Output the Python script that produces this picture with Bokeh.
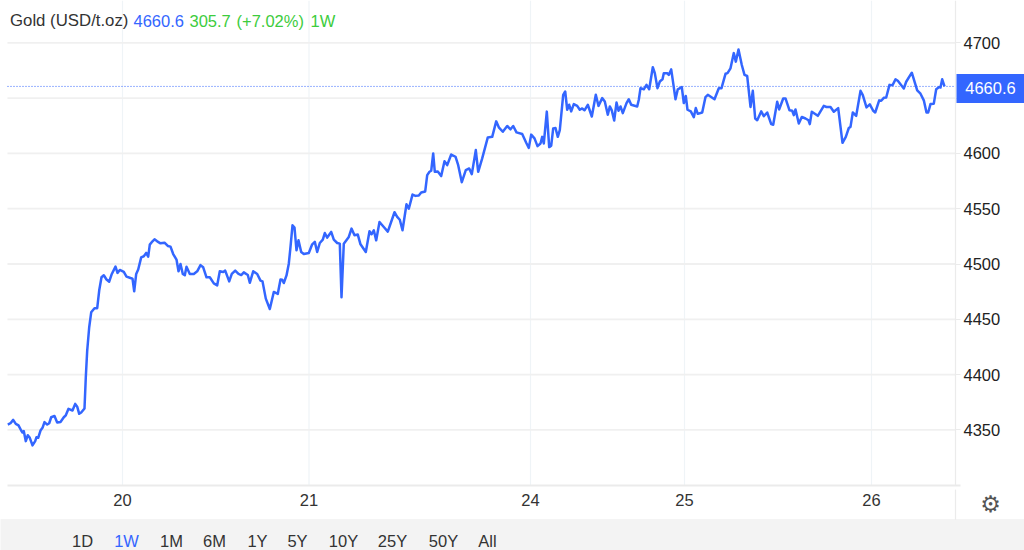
from bokeh.plotting import figure
from bokeh.models import Label, BoxAnnotation, FixedTicker, Range1d
from bokeh.embed import file_html
from bokeh.resources import INLINE

position = [7.3,10,12.7,15.3,18,20.7,22,23.3,25.3,27.3,29.3,32,34.7,36,37.7,40,42,44,46.7,48.7,50.7,54,56.7,60,63.3,65.3,68,72,74.7,76.7,78.7,80.7,84,85.3,86.7,88.7,90.7,94,96.7,98.7,101,103.3,106,108.7,111.3,115,117,119.3,123.3,126,130,132,133.7,135.7,137.7,140.7,143.3,145.7,147.7,149.3,152,154,156.7,160,164,167.3,170,172.7,176,178,180,182.3,184.3,186,189.3,193.3,196.7,200,202.7,206,209.3,213.3,216.7,219.3,222.7,224.7,228.7,231.3,234.7,238,240.7,243.3,247.3,249.3,252.7,256.7,260,262,265.3,269.3,273.3,277.3,280,281.7,283.3,286,288.3,290,292,294,296,298,300.7,303.3,308.3,311.7,314.3,316.7,319.3,322.3,324.3,326.7,330.7,333.3,336.7,339.3,341,343.3,348.3,351,354,357.3,360,365.3,369,371,373.3,375.7,379,383.3,387.3,394,396.7,399.3,402,406,408.3,412,415,418.3,420.7,424.7,426.7,429,430.7,432.7,434.3,437.3,440.7,444,446.7,450.7,455,457.7,461.3,465.3,468.7,471.3,475.3,477.7,481.7,487.3,491.7,495.7,498.3,502.3,506.7,510,512.7,516,521.7,525.7,528.3,530.7,534,537,540,541.7,543.3,546.3,548.7,550.7,552.7,555,557.3,559.3,562.7,564.7,566.7,568.7,570.7,573.3,576.7,579.3,581.7,584,587.3,591.3,595.3,598,601.7,604.3,607.3,609.3,611.3,613.7,616,618,620,622.3,626,628.3,630.7,636.7,638.3,640,643.3,646,648.7,652.3,654.3,657,659.3,662,663.3,666.7,668.3,670.7,672.7,675,677.3,681.3,683.3,685.3,687,690.3,693.3,695.3,697.3,701.7,705,707.3,714,718.3,721,725,727,730,733.3,735.3,738,741.3,744,746.7,750,752.3,754.7,756.7,760.7,763.3,766.7,770.7,772.7,776.7,778.7,782.7,785,789,791.7,793.3,795,798.3,801.3,805,808,809.3,811.3,817.3,823.3,826,830,833.3,837.7,842,845.3,848.3,850,852.3,855.7,860,862.3,866,869.3,872.7,874.7,878.7,880.7,883.3,885.7,889,892,895,897.3,903.3,905.7,911.3,916.7,920,923.3,926,927.7,930,933.3,935.7,938.7,940,941.7,944]
price = [4354.8,4356,4359,4355.4,4354,4349.4,4347.6,4348.8,4339.8,4345.2,4342.8,4336,4339.8,4343.4,4342.8,4349.4,4351.8,4357,4354.8,4356,4361.4,4362.6,4356.6,4357.2,4361.4,4363.2,4369,4367.5,4373.5,4371,4364.5,4365.7,4369.3,4397.6,4421.7,4442.8,4456.3,4460,4460,4476,4488,4489.8,4486,4484,4491,4497.6,4492,4494.6,4492.8,4488.6,4487.3,4486.7,4475.3,4491,4495,4506,4507,4510,4506.6,4517.5,4520.5,4522.3,4520.5,4518.7,4519.3,4516.3,4515.7,4509,4504,4493.4,4500,4491,4489.8,4497.6,4491,4491,4493.4,4499,4497,4488,4488,4482.5,4480.7,4493.4,4492.8,4494,4484.3,4491,4494,4491,4490,4492.4,4490,4483,4493.4,4491,4485,4484.3,4468.7,4459.3,4474.7,4473,4486,4485.8,4482.8,4489.7,4500.3,4515.4,4535,4533,4512.4,4521.4,4510.9,4509,4510,4517.8,4520,4510.9,4519,4522,4528,4523.9,4529,4522,4519,4518.4,4470,4518.4,4524.5,4532,4526,4526.6,4517.8,4510.9,4529.6,4526.9,4530.5,4521.4,4538,4533.5,4529.3,4546.8,4542.6,4540,4530.5,4554,4550,4562.8,4561.6,4562,4564.7,4565.6,4580.4,4583.4,4584.3,4600,4583.4,4583.7,4579.5,4593,4589.4,4599,4597,4589.4,4574,4584.9,4586.4,4581.3,4603,4583.4,4595.5,4614.5,4615,4629,4623.6,4619.6,4624.8,4621.8,4624.8,4619,4617.5,4609.7,4605,4617,4613.6,4606.6,4609,4615,4609,4637.8,4605.7,4607,4622.6,4623,4615,4621,4653,4656,4639.5,4644,4638,4644.6,4643,4639.5,4640.7,4639,4644,4633.4,4653,4643,4650,4647,4635,4642.5,4638.9,4629.8,4646,4638.6,4642.5,4636.4,4645.5,4649,4644,4642.5,4648.5,4659,4658,4662,4658,4678,4672.6,4659,4665,4667,4672.6,4672.6,4671,4676,4663.6,4649,4658,4660,4645.5,4652,4639.5,4638,4632.8,4641,4635.8,4637,4651,4653,4649,4659,4659,4672,4672.6,4677,4690.7,4683,4694,4680,4671,4670,4642,4656.6,4631.6,4630,4638,4633.7,4637,4626.5,4626,4646.7,4639.8,4649.7,4649.7,4639,4638.6,4634.6,4639.8,4627,4633,4631.6,4630,4626.5,4637.7,4634,4643,4642,4642,4637.7,4641,4609.6,4615,4623,4624,4637,4634,4656.6,4652.7,4641.6,4644.3,4638.6,4637,4648,4647.6,4650.3,4650.6,4662,4661.7,4667,4665.7,4658.7,4664.8,4673,4657,4654,4648,4637,4637,4644.6,4645,4658,4660,4659.6,4667,4660.6]

day_labels = ["20", "21", "24", "25", "26"]
day_positions = [122, 308.5, 530, 684, 871]
price_ticks = [4350, 4400, 4450, 4500, 4550, 4600, 4650, 4700]
ranges = ["1D", "1W", "1M", "6M", "1Y", "5Y", "10Y", "25Y", "50Y", "All"]
range_centres = [82, 126, 171, 214, 257, 297, 343, 392, 443, 487]
last_price = 4660.6

FONT = "Liberation Sans"
SIZE = "16.5px"
BLUE = "#3366ff"
GREEN = "#3dcc3d"
Y_BOTTOM, Y_TOP = 4240.9, 4738.3
AXIS_Y = 4300
X_LEFT, X_RIGHT = 7, 955

p = figure(width=1024, height=550, output_backend="svg", toolbar_location=None,
           x_range=Range1d(0, 1024), y_range=Range1d(Y_BOTTOM, Y_TOP),
           min_border_left=0, min_border_right=0, min_border_top=0, min_border_bottom=0,
           x_axis_location="below", y_axis_location="right")
p.outline_line_color = None
p.background_fill_color = "white"
p.xgrid.visible = False
p.ygrid.visible = False

# grid
p.segment(day_positions, [AXIS_Y] * 5, day_positions, [Y_TOP] * 5,
          line_color="#eff4f7", line_width=1.2)
p.segment([X_LEFT] * 8, price_ticks, [X_RIGHT] * 8, price_ticks,
          line_color="#f0f0f0", line_width=1.8)

xa = p.xaxis[0]
xa.fixed_location = AXIS_Y
xa.bounds = (X_LEFT, 960)
xa.ticker = FixedTicker(ticks=day_positions)
xa.major_label_overrides = {t: s for t, s in zip(day_positions, day_labels)}
xa.major_tick_line_color = None
xa.minor_tick_line_color = None
xa.axis_line_color = "#ebebeb"
xa.axis_line_width = 1.8
xa.major_label_text_font = FONT
xa.major_label_text_font_size = SIZE
xa.major_label_text_color = "#333333"
xa.major_label_standoff = 3

ya = p.yaxis[0]
ya.fixed_location = X_RIGHT
ya.bounds = (AXIS_Y, Y_TOP)
ya.ticker = FixedTicker(ticks=price_ticks)
ya.major_label_overrides = {4650: ""}
ya.major_tick_line_color = "#ebebeb"
ya.major_tick_in = 0
ya.major_tick_out = 5
ya.minor_tick_line_color = None
ya.axis_line_color = "#ebebeb"
ya.axis_line_width = 1.2
ya.major_label_text_font = FONT
ya.major_label_text_font_size = SIZE
ya.major_label_text_color = "#222222"
ya.major_label_standoff = 3

# short stub of the price scale below the date axis
p.segment([X_RIGHT], [AXIS_Y - 4], [X_RIGHT], [Y_BOTTOM], line_color="#ebebeb", line_width=1.2)

p.segment([X_LEFT], [last_price], [X_RIGHT], [last_price], line_color=BLUE,
          line_width=1, line_dash="1 2")
p.line(position, price, line_color=BLUE, line_width=2.5, line_join="round")

# bottom band and selector labels
p.add_layout(BoxAnnotation(left=0, right=1024, top=519, bottom=550,
                           left_units="canvas", right_units="canvas",
                           top_units="canvas", bottom_units="canvas",
                           fill_color="#f3f3f3", fill_alpha=1,
                           line_color="#e8e8e8", line_width=1))
for name, c in zip(ranges, range_centres):
    p.add_layout(Label(x=c, y=540, x_units="canvas", y_units="canvas", text=name,
                       text_font=FONT, text_font_size=SIZE,
                       text_color=BLUE if name == "1W" else "#333333",
                       text_align="center", text_baseline="middle"))

# last price tag
p.add_layout(BoxAnnotation(left=956, right=1024, top=73.5, bottom=102.5,
                           left_units="canvas", right_units="canvas",
                           top_units="canvas", bottom_units="canvas",
                           fill_color=BLUE, fill_alpha=1, line_color=None))
p.add_layout(Label(x=990, y=87.5, x_units="canvas", y_units="canvas", text=f"{last_price}",
                   text_font=FONT, text_font_size=SIZE, text_color="white",
                   text_align="center", text_baseline="middle"))

# header
for txt, left, col, size in [("Gold (USD/t.oz)", 9.5, "#333333", "16.8px"), ("4660.6", 133, BLUE, SIZE),
                             ("305.7", 189, GREEN, SIZE), ("(+7.02%)", 236, GREEN, SIZE), ("1W", 310, GREEN, SIZE)]:
    p.add_layout(Label(x=left, y=20, x_units="canvas", y_units="canvas", text=txt,
                       text_font=FONT, text_font_size=size, text_color=col,
                       text_align="left", text_baseline="middle"))

# settings gear
p.add_layout(Label(x=990, y=503, x_units="canvas", y_units="canvas", text="\u2699",
                   text_font="DejaVu Sans", text_font_size="23px", text_color="#555555",
                   text_align="center", text_baseline="middle"))

open("out.html", "w").write(file_html(p, INLINE))
